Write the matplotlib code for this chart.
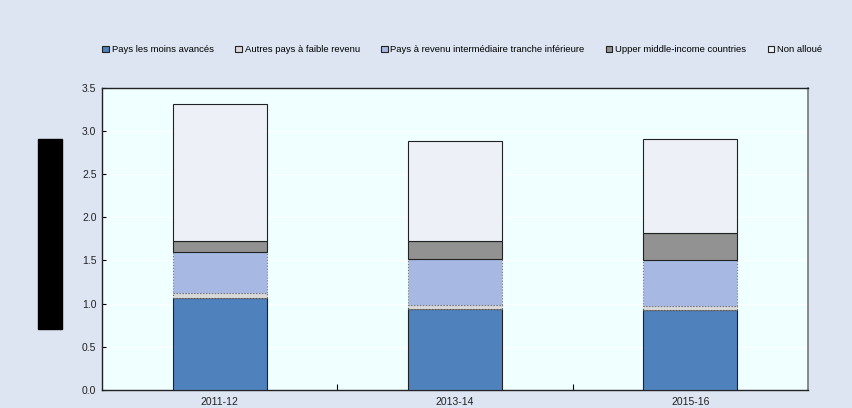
import matplotlib
matplotlib.use("Agg")
import matplotlib.pyplot as plt
import numpy as np
from matplotlib.patches import Rectangle

plt.rcParams["font.family"] = ["Liberation Sans", "DejaVu Sans"]

# data
periods = ["2011-12", "2013-14", "2015-16"]
series_names = [
    "Pays les moins avancés",
    "Autres pays à faible revenu",
    "Pays à revenu intermédiaire tranche inférieure",
    "Upper middle-income countries",
    "Non alloué",
]
ldc = [1.07, 0.94, 0.925]
other_lic = [0.055, 0.04, 0.045]
lmic = [0.475, 0.54, 0.54]
umic = [0.125, 0.205, 0.31]
unallocated = [1.585, 1.155, 1.08]

colors = ["#4F81BD", "#D9D9D9", "#A7B8E3", "#929292", "#EEF0F8"]
edges = ["#222222", "#555555", "#777777", "#222222", "#222222"]
styles = ["-", ":", ":", "-", "-"]

fig = plt.figure(figsize=(8.53, 4.08), dpi=100, facecolor="#DCE5F1")
ax = fig.add_axes([0.1196, 0.044, 0.8276, 0.7415])
ax.set_facecolor("#F0FFFF")

x = np.arange(len(periods))
bottom = np.zeros(len(periods))
handles = []
for vals, name, c, ec, ls in zip([ldc, other_lic, lmic, umic, unallocated],
                                 series_names, colors, edges, styles):
    b = ax.bar(x, vals, width=0.4, bottom=bottom, color=c, edgecolor=ec,
               linewidth=0.8, linestyle=ls, label=name, zorder=3)
    handles.append(b)
    bottom += np.array(vals)

ax.set_xlim(-0.5, 2.5)
ax.set_ylim(0, 3.5)
ax.set_yticks(np.arange(0, 3.51, 0.5))
ax.set_yticklabels([f"{v:.1f}" for v in np.arange(0, 3.51, 0.5)], fontsize=7.5, color="#222222")
ax.set_xticks(x)
ax.set_xticklabels(periods, fontsize=7.5, color="#222222")
ax.tick_params(axis="x", length=0, pad=5)
ax.set_xticks([0.5, 1.5], minor=True)
ax.tick_params(axis="x", which="minor", direction="in", length=4, width=0.8)
ax.tick_params(axis="y", direction="in", length=3, width=0.8, pad=4)
ax.grid(axis="y", color="white", linewidth=0.8, zorder=0)

for side in ["left", "bottom", "top"]:
    ax.spines[side].set_color("#222222")
    ax.spines[side].set_linewidth(1.0)
ax.spines["right"].set_color("#777777")
ax.spines["right"].set_linewidth(1.2)

leg = fig.legend(handles=handles, loc="center", bbox_to_anchor=(0.542, 0.878), ncol=5,
                 frameon=False, fontsize=6.8, handlelength=0.7, handleheight=0.7,
                 handletextpad=0.3, columnspacing=2.25)
for h in leg.legend_handles:
    h.set_linestyle("-")
    h.set_edgecolor("#222222")

# redacted axis title block
fig.patches.append(Rectangle((38 / 853, 1 - 329 / 408), 24 / 853, 190 / 408,
                             transform=fig.transFigure, color="black"))

fig.savefig("out.png", dpi=100, facecolor=fig.get_facecolor())
